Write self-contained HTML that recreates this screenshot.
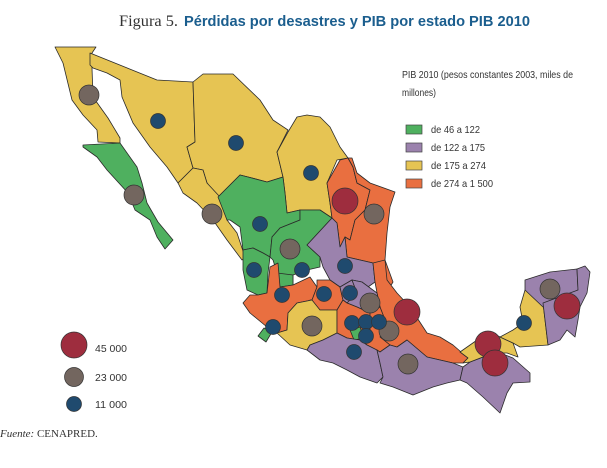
<!DOCTYPE html>
<html><head><meta charset="utf-8"><style>
body{margin:0;background:#fff;width:607px;height:468px;overflow:hidden}
svg{display:block}
.t{font-family:"Liberation Sans",sans-serif;font-size:10.5px;fill:#333}
</style></head><body>
<svg width="607" height="468" viewBox="0 0 607 468" xmlns="http://www.w3.org/2000/svg">
<text x="119" y="26" font-family="Liberation Serif,serif" font-size="16" fill="#333" textLength="59" lengthAdjust="spacingAndGlyphs">Figura 5.</text>
<text x="184" y="26" font-family="Liberation Sans,sans-serif" font-weight="bold" fill="#1b5e8e" font-size="15" textLength="346" lengthAdjust="spacingAndGlyphs">Pérdidas por desastres y PIB por estado PIB 2010</text>
<g stroke="#2a2a2a" stroke-width="0.8" stroke-linejoin="round">
<polygon fill="#e6c453" points="55,47 96,47 92,53 92,68 93,97 108,118 120,138 120,143 98,142 97,130 83,115 72,100 63,63"/>
<polygon fill="#4fb05f" points="83,145 120,143 137,167 142,183 147,203 158,222 173,240 165,249 157,237 150,220 135,210 128,193 107,170 97,157 83,147"/>
<polygon fill="#e6c453" points="90,53 157,80 193,82 195,142 187,147 193,168 178,183 167,167 150,147 133,123 122,97 120,80 107,73 93,68 90,65"/>
<polygon fill="#e6c453" points="193,82 203,74 233,74 260,100 273,120 288,130 277,152 283,177 267,182 248,177 240,175 232,183 218,197 207,183 203,170 193,168 187,147 195,142"/>
<polygon fill="#e6c453" points="288,132 297,117 307,115 320,117 330,127 340,147 348,158 337,160 327,183 330,203 332,218 320,210 300,210 287,213 285,193 283,177 277,152"/>
<polygon fill="#e6c453" points="178,183 193,168 203,170 207,183 220,197 227,220 237,233 245,257 242,260 227,240 213,220 197,203 183,193"/>
<polygon fill="#4fb05f" points="218,197 232,183 240,175 248,177 267,182 283,177 285,193 287,213 300,210 300,220 280,228 272,237 270,257 263,253 253,248 243,250 240,227 230,220 227,220"/>
<polygon fill="#4fb05f" points="300,210 320,210 332,218 307,245 320,257 320,267 307,270 293,275 293,285 280,287 277,273 273,260 270,257 272,237 280,228 300,220"/>
<polygon fill="#4fb05f" points="277,273 293,275 293,285 280,287"/>
<polygon fill="#4fb05f" points="243,250 253,248 263,253 270,257 268,273 267,293 258,295 247,290 243,270"/>
<polygon fill="#e96f40" points="340,160 348,158 353,167 357,183 370,190 365,210 355,220 350,240 345,237 340,247 337,223 332,218 330,203 327,183"/>
<polygon fill="#e96f40" points="348,158 352,158 357,173 370,183 395,192 390,207 387,233 385,260 393,282 390,287 373,263 347,257 345,237 350,240 355,220 365,210 370,190 357,183 353,167"/>
<polygon fill="#9b82ad" points="307,245 332,218 337,223 340,247 345,237 347,257 373,263 375,282 368,287 362,282 352,280 340,287 330,280 323,267 320,257"/>
<polygon fill="#e96f40" points="373,263 385,260 387,280 397,293 410,307 427,333 440,337 453,345 468,358 463,363 453,363 427,357 407,340 397,347 390,345 380,337 387,325 380,307 377,293 375,282"/>
<polygon fill="#e96f40" points="243,303 250,295 258,295 267,293 270,267 278,263 280,287 293,285 310,277 317,287 312,300 297,303 288,313 287,330 277,333 267,327 250,313"/>
<polygon fill="#4fb05f" points="258,336 264,328 272,332 266,342"/>
<polygon fill="#e96f40" points="317,280 330,280 340,287 343,300 337,310 320,310 310,300 312,300 317,287"/>
<polygon fill="#9b82ad" points="340,287 352,280 357,293 347,303 343,300"/>
<polygon fill="#9b82ad" points="352,280 362,282 377,293 380,307 370,313 357,307 347,303 357,293"/>
<polygon fill="#e6c453" points="288,313 297,303 312,300 320,310 337,310 337,333 323,340 310,345 307,350 290,345 277,333 287,330"/>
<polygon fill="#e96f40" points="337,310 343,300 347,303 357,307 370,313 370,332 360,340 347,338 337,333"/>
<polygon fill="#4fb05f" points="350,330 360,327 364,338 354,340"/>
<polygon fill="#e96f40" points="370,313 380,307 387,325 380,337 390,345 380,352 367,345 360,340 370,332"/>
<polygon fill="#9b82ad" points="307,350 310,345 323,340 337,333 347,338 360,340 367,345 377,350 380,363 383,377 377,383 360,377 347,370 333,363 320,360"/>
<polygon fill="#9b82ad" points="377,350 380,352 390,345 397,347 407,340 427,357 453,363 463,367 460,380 447,383 433,387 413,395 393,387 380,383 383,377 380,363"/>
<polygon fill="#9b82ad" points="463,367 470,362 483,357 500,353 513,358 530,373 530,382 513,383 507,393 500,413 483,397 467,383 460,380"/>
<polygon fill="#e6c453" points="460,352 480,338 493,333 500,337 513,343 518,357 507,353 500,353 483,357 470,362 463,363 468,358"/>
<polygon fill="#e6c453" points="500,337 513,330 523,323 520,307 525,290 543,303 548,345 520,347 513,343"/>
<polygon fill="#9b82ad" points="525,290 525,280 550,272 577,269 578,290 543,307"/>
<polygon fill="#9b82ad" points="577,269 585,266 590,272 587,293 580,307 578,320 575,337 567,330 560,340 548,345 543,303 578,290"/>
</g>
<g stroke="#333" stroke-width="0.7">
<g fill="#73665f">
<circle cx="89" cy="95" r="10"/><circle cx="134" cy="195" r="10"/><circle cx="212" cy="214" r="10"/><circle cx="374" cy="214" r="10"/><circle cx="290" cy="249" r="10"/><circle cx="370" cy="303" r="10"/><circle cx="389" cy="331" r="10"/><circle cx="312" cy="326" r="10"/><circle cx="408" cy="364" r="10"/><circle cx="550" cy="289" r="10"/>
</g>
<g fill="#1f4a6e">
<circle cx="158" cy="121" r="7.5"/><circle cx="236" cy="143" r="7.5"/><circle cx="311" cy="173" r="7.5"/><circle cx="260" cy="224" r="7.5"/><circle cx="254" cy="270" r="7.5"/><circle cx="302" cy="270" r="7.5"/><circle cx="345" cy="266" r="7.5"/><circle cx="282" cy="295" r="7.5"/><circle cx="324" cy="294" r="7.5"/><circle cx="350" cy="293" r="7.5"/><circle cx="273" cy="327" r="7.5"/><circle cx="352" cy="323" r="7.5"/><circle cx="366" cy="322" r="7.5"/><circle cx="379" cy="322" r="7.5"/><circle cx="366" cy="336" r="7.5"/><circle cx="354" cy="352" r="7.5"/><circle cx="524" cy="323" r="7.5"/>
</g>
<g fill="#9e2d3e">
<circle cx="345" cy="201" r="13"/><circle cx="407" cy="312" r="13"/><circle cx="488" cy="344" r="13"/><circle cx="495" cy="363" r="13"/><circle cx="567" cy="306" r="13"/>
</g>
<circle cx="74" cy="345" r="13" fill="#9e2d3e"/>
<circle cx="74" cy="377" r="9.5" fill="#73665f"/>
<circle cx="74" cy="404" r="7.5" fill="#1f4a6e"/>
</g>
<text class="t" x="95" y="352" textLength="32" lengthAdjust="spacingAndGlyphs">45 000</text>
<text class="t" x="95" y="381" textLength="32" lengthAdjust="spacingAndGlyphs">23 000</text>
<text class="t" x="95" y="408" textLength="32" lengthAdjust="spacingAndGlyphs">11 000</text>
<text class="t" x="402" y="78" textLength="171" lengthAdjust="spacingAndGlyphs">PIB 2010 (pesos constantes 2003, miles de</text>
<text class="t" x="402" y="96" textLength="34" lengthAdjust="spacingAndGlyphs">millones)</text>
<g stroke="#444" stroke-width="0.7">
<rect x="406" y="125" width="16" height="9" fill="#4fb05f"/>
<rect x="406" y="143" width="16" height="9" fill="#9b82ad"/>
<rect x="406" y="161" width="16" height="9" fill="#e6c453"/>
<rect x="406" y="179" width="16" height="9" fill="#e96f40"/>
</g>
<text class="t" x="431" y="133" textLength="49" lengthAdjust="spacingAndGlyphs">de 46 a 122</text>
<text class="t" x="431" y="151" textLength="54" lengthAdjust="spacingAndGlyphs">de 122 a 175</text>
<text class="t" x="431" y="169" textLength="55" lengthAdjust="spacingAndGlyphs">de 175 a 274</text>
<text class="t" x="431" y="187" textLength="62" lengthAdjust="spacingAndGlyphs">de 274 a 1 500</text>
<text x="0" y="437" font-family="Liberation Serif,serif" font-size="11" fill="#333"><tspan font-style="italic">Fuente:</tspan> CENAPRED.</text>
</svg>
</body></html>
